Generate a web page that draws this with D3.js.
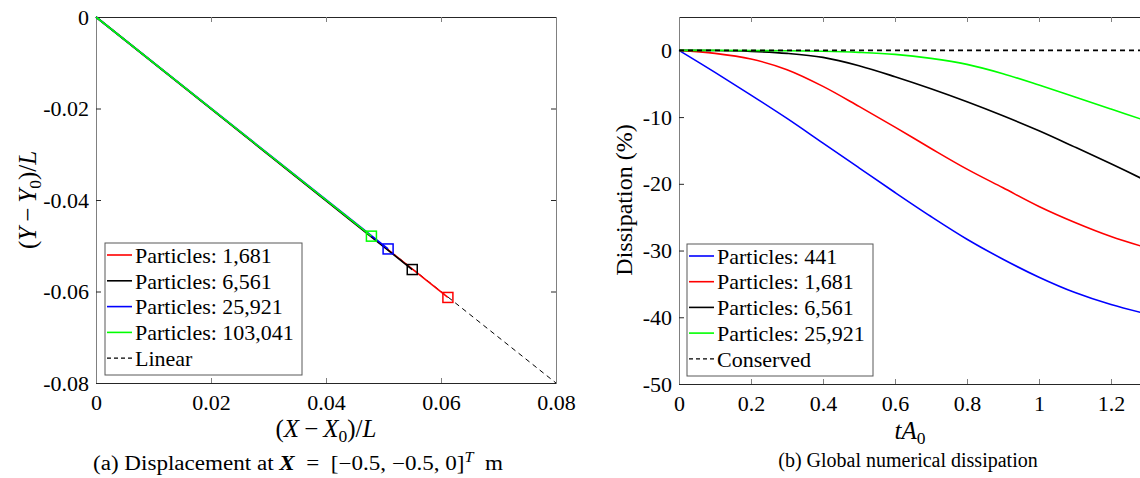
<!DOCTYPE html>
<html>
<head>
<meta charset="utf-8">
<script src="https://cdn.jsdelivr.net/npm/d3@7"></script>
<style>
  body { margin: 0; background: #fff; }
  svg { display: block; }
  text { font-family: "Liberation Serif", "Times New Roman"; }
</style>
</head>
<body>
<div id="chart"></div>
<script>
// ---- (a) displacement data ----
var dispLabels = ["Particles: 1,681", "Particles: 6,561", "Particles: 25,921", "Particles: 103,041"];
var dispColors = ["#ff0000", "#000000", "#0000ff", "#00ff00"];
var dispPathX = [[0, 0.0612], [0, 0.0550], [0, 0.0508], [0, 0.0479]];
var dispPathY = [[0, -0.0613], [0, -0.0552], [0, -0.0507], [0, -0.0479]];
var linearX = [0, 0.08];
var linearY = [0, -0.08];
var dispXTicks = [0, 0.02, 0.04, 0.06, 0.08];
var dispYTicks = [0, -0.02, -0.04, -0.06, -0.08];

// ---- (b) dissipation data ----
var tValues = [0, 0.1, 0.2, 0.3, 0.4, 0.5, 0.6, 0.7, 0.8, 0.9, 1.0, 1.1, 1.2, 1.3];
var diss441   = [0, -3.3, -6.7, -10.2, -13.9, -17.6, -21.3, -24.9, -28.3, -31.3, -34.0, -36.3, -38.1, -39.5];
var diss1681  = [0, -0.45, -1.3, -2.9, -5.4, -8.4, -11.5, -14.7, -17.8, -20.6, -23.4, -25.8, -27.9, -29.6];
var diss6561  = [0, -0.02, -0.15, -0.45, -1.05, -2.3, -3.95, -5.75, -7.7, -9.8, -12.05, -14.5, -17.0, -19.6];
var diss25921 = [0, 0, -0.02, -0.06, -0.13, -0.3, -0.6, -1.2, -2.1, -3.5, -5.2, -7.0, -8.8, -10.6];
var dissLabels = ["Particles: 441", "Particles: 1,681", "Particles: 6,561", "Particles: 25,921"];
var dissColors = ["#0000ff", "#ff0000", "#000000", "#00ff00"];
var dissXTicks = [0, 0.2, 0.4, 0.6, 0.8, 1, 1.2];
var dissYTicks = [-50, -40, -30, -20, -10, 0];

var W = 1140, H = 478;
var DARK = "#262626", GREY = "#808080";
var FONT = "'Liberation Serif', 'Times New Roman'";

var svg = d3.select("#chart").append("svg")
    .attr("width", W)
    .attr("height", H);

// writes a bit of TeX-like text made of [string, style] parts
function mathText(el, parts) {
  var shift = 0;
  parts.forEach(function (p) {
    var t = el.append("tspan").text(p[0]);
    var want = 0;
    if (p[1] == "sub") { want = 5; t.style("font-size", "0.7em").style("font-style", "normal"); }
    if (p[1] == "sup") { want = -8; t.style("font-size", "0.7em").style("font-style", "italic"); }
    if (p[1] == "i") t.style("font-style", "italic");
    if (p[1] == "n") t.style("font-style", "normal");
    if (p[1] == "bi") t.style("font-style", "italic").style("font-weight", "bold");
    if (want != shift) { t.attr("dy", want - shift); shift = want; }
  });
}

function drawFrame(g, x, y, xTicks, yTicks, xFmt, yFmt) {
  var yb = y.range()[0], yt = y.range()[1];
  var xl = x.range()[0], xr = x.range()[1];

  var bottom = g.append("g").attr("transform", "translate(0," + yb + ")")
      .call(d3.axisBottom(x).tickValues(xTicks).tickSize(-5).tickSizeOuter(0).tickPadding(11).tickFormat(xFmt));
  var top = g.append("g").attr("transform", "translate(0," + yt + ")")
      .call(d3.axisTop(x).tickValues(xTicks).tickSize(-5).tickSizeOuter(0).tickFormat(""));
  var left = g.append("g").attr("transform", "translate(" + xl + ",0)")
      .call(d3.axisLeft(y).tickValues(yTicks).tickSize(-5).tickSizeOuter(0).tickPadding(7).tickFormat(yFmt));
  var right = g.append("g").attr("transform", "translate(" + xr + ",0)")
      .call(d3.axisRight(y).tickValues(yTicks).tickSize(-5).tickSizeOuter(0).tickFormat(""));

  [bottom, top].forEach(function (a) {
    a.select(".domain").attr("stroke", DARK);
    a.selectAll(".tick line").attr("stroke", GREY);
  });
  [left, right].forEach(function (a) {
    a.select(".domain").attr("stroke", GREY);
    a.selectAll(".tick line").attr("stroke", DARK);
  });
  [bottom, top, left, right].forEach(function (a) {
    a.attr("font-family", null).attr("font-size", null);
  });
  g.selectAll(".tick text")
      .attr("fill", "#000")
      .style("font-family", FONT)
      .style("font-size", "22px");
}

function drawLegend(g, box, rows) {
  g.append("rect")
      .attr("x", box.x).attr("y", box.y)
      .attr("width", box.w).attr("height", box.h)
      .attr("fill", "#fff").attr("stroke", "#595959").attr("stroke-width", 1);
  rows.forEach(function (r, i) {
    var cy = box.y + 12 + i * box.step;
    g.append("line")
        .attr("x1", box.x + 2).attr("x2", box.x + 27)
        .attr("y1", cy).attr("y2", cy)
        .attr("stroke", r.color)
        .attr("stroke-width", r.dash ? 1.2 : 1.6)
        .attr("stroke-dasharray", r.dash ? "4,3" : null);
    g.append("text")
        .attr("x", box.x + 30).attr("y", cy)
        .attr("dy", "0.35em")
        .style("font-family", FONT)
        .style("font-size", "22px")
        .text(r.label);
  });
}

// ================= panel (a) =================
var gA = svg.append("g");
var xA = d3.scaleLinear().domain([0, 0.08]).range([96, 556]);
var yA = d3.scaleLinear().domain([-0.08, 0]).range([383, 17]);
var fmtA = function (d) { return d == 0 ? "0" : d3.format(".2f")(d).replace("\u2212", "-"); };

drawFrame(gA, xA, yA, dispXTicks, dispYTicks, fmtA, fmtA);

var lineA = d3.line()
    .x(function (d) { return xA(d[0]); })
    .y(function (d) { return yA(d[1]); });

gA.append("path")
    .datum(d3.zip(linearX, linearY))
    .attr("d", lineA)
    .attr("fill", "none")
    .attr("stroke", "#000")
    .attr("stroke-width", 1)
    .attr("stroke-dasharray", "5,4");

dispLabels.forEach(function (lab, i) {
  gA.append("path")
      .datum(d3.zip(dispPathX[i], dispPathY[i]))
      .attr("d", lineA)
      .attr("fill", "none")
      .attr("stroke", dispColors[i])
      .attr("stroke-width", 1.6);
});
dispLabels.forEach(function (lab, i) {
  var n = dispPathX[i].length - 1;
  gA.append("rect")
      .attr("x", xA(dispPathX[i][n]) - 5)
      .attr("y", yA(dispPathY[i][n]) - 5)
      .attr("width", 10).attr("height", 10)
      .attr("fill", "none")
      .attr("stroke", dispColors[i])
      .attr("stroke-width", 1.5);
});

drawLegend(gA, {x: 105, y: 243, w: 197, h: 132, step: 25.8},
  dispLabels.map(function (l, i) { return {label: l, color: dispColors[i]}; })
    .concat([{label: "Linear", color: "#000", dash: true}]));

var xLabA = gA.append("text")
    .attr("x", 326).attr("y", 437)
    .attr("text-anchor", "middle")
    .style("font-family", FONT)
    .style("font-size", "25px");
mathText(xLabA, [["(", "n"], ["X", "i"], ["\u2009\u2212\u2009", "n"], ["X", "i"], ["0", "sub"], [")/", "n"], ["L", "i"]]);

var yLabA = gA.append("text")
    .attr("transform", "translate(36,200) rotate(-90)")
    .attr("text-anchor", "middle")
    .style("font-family", FONT)
    .style("font-size", "25px");
mathText(yLabA, [["(", "n"], ["Y", "i"], ["\u2009\u2212\u2009", "n"], ["Y", "i"], ["0", "sub"], [")/", "n"], ["L", "i"]]);

var capA = gA.append("text")
    .attr("x", 93).attr("y", 470)
    .attr("textLength", 410)
    .attr("lengthAdjust", "spacingAndGlyphs")
    .style("font-family", FONT)
    .style("font-size", "20px");
mathText(capA, [["(a) Displacement at ", "n"], ["X", "bi"], ["\u2002=\u2002[\u22120.5, \u22120.5, 0]", "n"], ["T", "sup"], ["\u2002m", "n"]]);

// ================= panel (b) =================
var gB = svg.append("g");
var xB = d3.scaleLinear().domain([0, 1.4]).range([679, 1183]);
var yB = d3.scaleLinear().domain([-50, 5]).range([384, 17]);
var fmtBx = function (d) { return d3.format("~g")(d); };
var fmtBy = function (d) { return String(d); };

drawFrame(gB, xB, yB, dissXTicks, dissYTicks, fmtBx, fmtBy);

var lineB = d3.line()
    .x(function (d) { return xB(d[0]); })
    .y(function (d) { return yB(d[1]); })
    .curve(d3.curveCatmullRom);

[diss441, diss1681, diss6561, diss25921].forEach(function (vals, i) {
  gB.append("path")
      .datum(d3.zip(tValues, vals))
      .attr("d", lineB)
      .attr("fill", "none")
      .attr("stroke", dissColors[i])
      .attr("stroke-width", 1.6);
});

gB.append("path")
    .datum([[0, 0], [1.4, 0]])
    .attr("d", lineB)
    .attr("fill", "none")
    .attr("stroke", "#000")
    .attr("stroke-width", 1.6)
    .attr("stroke-dasharray", "5,4");

drawLegend(gB, {x: 687, y: 244, w: 186, h: 132, step: 25.7},
  dissLabels.map(function (l, i) { return {label: l, color: dissColors[i]}; })
    .concat([{label: "Conserved", color: "#000", dash: true}]));

var xLabB = gB.append("text")
    .attr("x", 910).attr("y", 439)
    .attr("text-anchor", "middle")
    .style("font-family", FONT)
    .style("font-size", "25px");
mathText(xLabB, [["tA", "i"], ["0", "sub"]]);

gB.append("text")
    .attr("transform", "translate(632,200) rotate(-90)")
    .attr("text-anchor", "middle")
    .style("font-family", FONT)
    .style("font-size", "24px")
    .text("Dissipation (%)");

gB.append("text")
    .attr("x", 908).attr("y", 467)
    .attr("text-anchor", "middle")
    .style("font-family", FONT)
    .style("font-size", "20px")
    .text("(b) Global numerical dissipation");
</script>
</body>
</html>
